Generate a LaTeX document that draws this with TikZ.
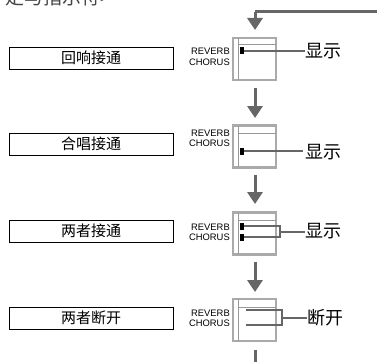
\documentclass[tikz,border=0pt]{standalone}
\usepackage{fontspec}
\setmainfont{Liberation Sans}
\newfontfamily\cjk{Noto Sans CJK SC}
\usetikzlibrary{arrows.meta}
\definecolor{conngray}{HTML}{666666}
\definecolor{boxgray}{HTML}{AAAAAA}
\definecolor{innergray}{HTML}{999999}
\definecolor{titlegray}{HTML}{444444}
\tikzset{
  lbox/.style={draw=black, line width=0.9pt, minimum width=164pt, minimum height=22pt, inner sep=0pt, font=\cjk\fontsize{15}{15}\selectfont},
  lcd/.style={draw=boxgray, line width=2.4pt, minimum width=43pt, minimum height=42pt, inner sep=0pt},
  inner/.style={draw=innergray, line width=1pt},
  ind/.style={fill=black, minimum width=4pt, minimum height=7pt, inner sep=0pt},
  conn/.style={draw=conngray, line width=2pt},
  stlab/.style={font=\cjk\fontsize{18}{18}\selectfont, inner sep=0pt, anchor=west},
  eflab/.style={font=\fontsize{9.4}{10}\selectfont, inner sep=0pt, anchor=east},
  flowarr/.style={draw=conngray, line width=3pt, -{Triangle[width=15pt,length=12pt]}},
}
\begin{document}
\begin{tikzpicture}[x=1pt,y=-1pt]
\useasboundingbox (0,0) rectangle (377,361);
\clip (0,0) rectangle (377,361);
% title (cut off at top, as in the reference)
\node[font=\cjk\fontsize{19}{19}\selectfont, text=titlegray, anchor=east, inner sep=0pt] (title) at (111,-2.5) {定与指示符>};
% top arrow
\coordinate (ts) at (378,12);
\coordinate (tc) at (255,12);
\coordinate (te) at (255,30);
\draw[conn, line width=3pt] (ts) -- (tc);
\draw[flowarr] (tc) -- (te);

% ---------- row 1
\node[lbox] (l1) at (91,58) {回响接通};
\node[lcd] (d1) at (254.5,59) {};
\draw[inner] (238,38) -- (238,80) (238,45) -- (276,45);
\node[eflab] (r1) at (230,51) {REVERB};
\node[eflab] (c1) at (230,62) {CHORUS};
\node[ind] (i1) at (241.5,51) {};
\node[stlab] (t1) at (305,51) {显示};
\draw[conn] (i1.east) -- (t1.west);
\coordinate (a1s) at (255,88);
\coordinate (a1e) at (255,118);
\draw[flowarr] (a1s) -- (a1e);

% ---------- row 2
\node[lbox] (l2) at (91,144) {合唱接通};
\node[lcd] (d2) at (254.5,146.5) {};
\draw[inner] (238,126) -- (238,167) (238,133) -- (276,133);
\node[eflab] (r2) at (230,133) {REVERB};
\node[eflab] (c2) at (230,143) {CHORUS};
\node[ind] (i2) at (241.5,151) {};
\node[stlab] (t2) at (305,152) {显示};
\draw[conn] (i2.east) -- (303,151);
\coordinate (a2s) at (255,175);
\coordinate (a2e) at (255,204);
\draw[flowarr] (a2s) -- (a2e);

% ---------- row 3
\node[lbox] (l3) at (91,231) {两者接通};
\node[lcd] (d3) at (254.5,233.5) {};
\draw[inner] (238,213) -- (238,254) (238,220) -- (276,220);
\node[eflab] (r3) at (230,227) {REVERB};
\node[eflab] (c3) at (230,237) {CHORUS};
\node[ind] (i3a) at (241.5,226) {};
\node[ind] (i3b) at (241.5,237) {};
\node[stlab] (t3) at (305,231.5) {显示};
\coordinate (b3a) at (280,226);
\coordinate (b3b) at (280,237);
\coordinate (b3m) at (280,231.5);
\draw[conn] (i3a.east) -- (b3a) -- (b3b) -- (i3b.east);
\draw[conn] (b3m) -- (t3.west);
\coordinate (a3s) at (255,262);
\coordinate (a3e) at (255,292);
\draw[flowarr] (a3s) -- (a3e);

% ---------- row 4
\node[lbox] (l4) at (91,318) {两者断开};
\node[lcd] (d4) at (254.5,320) {};
\draw[inner] (238,299) -- (238,341) (238,307) -- (276,307);
\node[eflab] (r4) at (230,313) {REVERB};
\node[eflab] (c4) at (230,323) {CHORUS};
\coordinate (o4a) at (246,310);
\coordinate (o4b) at (246,325);
\node[stlab] (t4) at (307,317.5) {断开};
\coordinate (b4a) at (282,310);
\coordinate (b4b) at (282,325);
\coordinate (b4m) at (282,317.5);
\draw[conn] (o4a) -- (b4a) -- (b4b) -- (o4b);
\draw[conn] (b4m) -- (t4.west);
\coordinate (a4s) at (255,350);
\coordinate (a4e) at (255,362);
\draw[conn, line width=3pt] (a4s) -- (a4e);
\end{tikzpicture}
\end{document}
